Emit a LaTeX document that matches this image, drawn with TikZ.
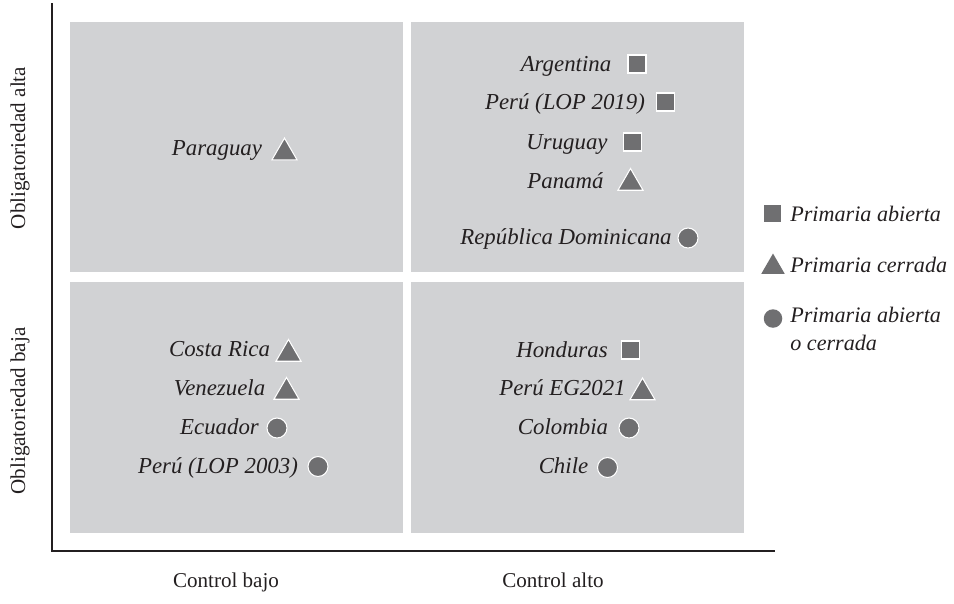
\documentclass[tikz,border=0pt]{standalone}
\usepackage{fontspec}
\setmainfont{Liberation Serif}
\usetikzlibrary{shapes.geometric}
\usepackage{xcolor}

\definecolor{panelgray}{RGB}{209,210,212}
\definecolor{markgray}{RGB}{111,111,113}
\definecolor{inkgray}{RGB}{35,31,32}

\tikzset{
  panel/.style={fill=panelgray},
  country/.style={font=\fontsize{13}{15.5}\selectfont\itshape, text=inkgray, inner sep=0pt, anchor=base},
  legendtext/.style={font=\fontsize{12.6}{15.5}\selectfont\itshape, text=inkgray, inner sep=0pt, anchor=west, align=left},
  axislabel/.style={font=\fontsize{12}{14}\selectfont, text=inkgray, inner sep=0pt},
  sqmark/.style={rectangle, fill=markgray, draw=white, line width=0.6pt, minimum size=0.36cm, inner sep=0pt},
  trimark/.style={regular polygon, regular polygon sides=3, fill=markgray, draw=white, line width=0.6pt, minimum size=0.58cm, inner sep=0pt},
  cirmark/.style={circle, fill=markgray, draw=white, line width=0.6pt, minimum size=0.4cm, inner sep=0pt}
}

\begin{document}
\begin{tikzpicture}[x=0.02cm, y=-0.02cm]
    \useasboundingbox (0,0) rectangle (954,603);
    % quadrants
    \fill[panel] (70,22) rectangle (403,272);
    \fill[panel] (411,22) rectangle (744,272);
    \fill[panel] (70,282) rectangle (403,533);
    \fill[panel] (411,282) rectangle (744,533);
    % axes
    \draw[inkgray, line width=1.3pt] (52,3) -- (52,551) -- (775,551);

    % axis labels
    \node[axislabel, rotate=90] (obalta) at (20,148) {Obligatoriedad alta};
    \node[axislabel, rotate=90] (obbaja) at (20,411) {Obligatoriedad baja};
    \node[axislabel, anchor=base] (ctrlbajo) at (226,587) {Control bajo};
    \node[axislabel, anchor=base] (ctrlalto) at (553,587) {Control alto};

    % alta / bajo
    \node[country] (paraguay) at (217,155) {Paraguay};
    \node[trimark] (paraguay-m) at (284.5,152.6) {};

    % alta / alto
    \node[country] (argentina) at (566,71) {Argentina};
    \node[sqmark] (argentina-m) at (637,64) {};
    \node[country] (peru19) at (565,109) {Perú (LOP 2019)};
    \node[sqmark] (peru19-m) at (665.5,102) {};
    \node[country] (uruguay) at (567,149) {Uruguay};
    \node[sqmark] (uruguay-m) at (632.5,142) {};
    \node[country] (panama) at (565.5,188) {Panamá};
    \node[trimark] (panama-m) at (630.5,183) {};
    \node[country] (repdom) at (566,244) {República Dominicana};
    \node[cirmark] (repdom-m) at (688,238) {};

    % baja / bajo
    \node[country] (costarica) at (219.5,356) {Costa Rica};
    \node[trimark] (costarica-m) at (288.5,354) {};
    \node[country] (venezuela) at (219.5,395) {Venezuela};
    \node[trimark] (venezuela-m) at (286.5,392) {};
    \node[country] (ecuador) at (219.5,434) {Ecuador};
    \node[cirmark] (ecuador-m) at (277,428) {};
    \node[country] (peru03) at (218,473) {Perú (LOP 2003)};
    \node[cirmark] (peru03-m) at (318,466.5) {};

    % baja / alto
    \node[country] (honduras) at (562,357) {Honduras};
    \node[sqmark] (honduras-m) at (630.5,350) {};
    \node[country] (peru21) at (562.5,395) {Perú EG2021};
    \node[trimark] (peru21-m) at (642.5,392.5) {};
    \node[country] (colombia) at (563,434) {Colombia};
    \node[cirmark] (colombia-m) at (629,428) {};
    \node[country] (chile) at (563.5,473) {Chile};
    \node[cirmark] (chile-m) at (607.5,467.5) {};

    % legend
    \node[sqmark, draw=none, minimum size=0.34cm] (abierta-m) at (772.5,213) {};
    \node[legendtext] (abierta) at (790,214) {Primaria abierta};
    \node[trimark, draw=none, minimum size=0.54cm] (cerrada-m) at (773,267) {};
    \node[legendtext] (cerrada) at (790,265) {Primaria cerrada};
    \node[cirmark, draw=none, minimum size=0.37cm] (ambas-m) at (773,318.5) {};
    \node[legendtext] (ambas) at (790,329) {Primaria abierta\\o cerrada};
\end{tikzpicture}
\end{document}
